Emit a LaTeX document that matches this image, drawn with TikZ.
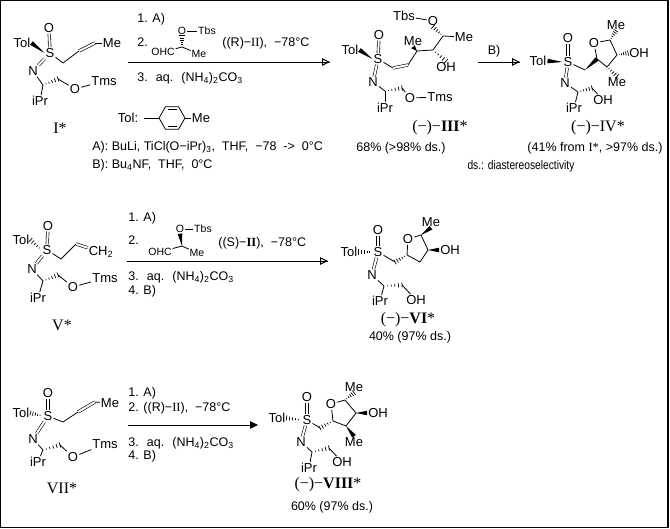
\documentclass[tikz,border=0pt]{standalone}
\usepackage{fontspec}
\setmainfont{Liberation Sans}
\newfontfamily\rmn{Liberation Serif}
\usetikzlibrary{arrows.meta,calc}
\newcommand\wdg[2]{%
  \coordinate (wA) at ($(#2)!2.3pt!90:(#1)$);
  \coordinate (wB) at ($(#2)!2.3pt!-90:(#1)$);
  \fill (#1) -- (wA) -- (wB) -- cycle;}
\newcommand\hsh[2]{%
  \coordinate (wA) at ($(#2)!2.6pt!90:(#1)$);
  \coordinate (wB) at ($(#2)!2.6pt!-90:(#1)$);
  \foreach \t in {0.2,0.4,0.6,0.8,1.0}{\draw[line width=0.7pt] ($(#1)!\t!(wA)$) -- ($(#1)!\t!(wB)$);}}
\begin{document}
\begin{tikzpicture}[x=1pt,y=-1pt,line width=0.8pt,
  font=\fontsize{12.5}{14}\selectfont,
  atom/.style={inner sep=0.8pt,font=\fontsize{13}{15}\selectfont},
  small/.style={inner sep=0.6pt,font=\fontsize{10.5}{12}\selectfont},
  dbl/.style={double distance=2pt,line width=0.6pt},
  txt/.style={inner sep=0pt,anchor=west},
  lbl/.style={inner sep=0pt,font=\rmn\fontsize{16}{18}\selectfont},
  note/.style={inner sep=0pt},
  rx/.style={line width=0.8pt},
  ohead/.style={-{Triangle[open,length=8pt,width=7.5pt,line width=1pt]}},
  fhead/.style={-{Triangle[length=8pt,width=7.5pt]}}]
\useasboundingbox (0,0) rectangle (670,529);
\draw[line width=1.4pt] (0.7,0.7) rectangle (668,527.6);

% ================= I* =================
\begin{scope}[shift={(50,53)}]
\node[atom] (Sa) at (0,0) {S};
\node[atom] (Oa) at (-1,-25) {O};
\node[atom] (Tola) at (-28,-10) {Tol};
\node[atom] (Na) at (-17,18) {N};
\coordinate (Ca) at (-7,32);
\node[atom] (iPra) at (-10,48) {iPr};
\coordinate (Cba) at (8,26);
\node[atom] (Oba) at (25,36) {O};
\node[atom] (Tmsa) at (54,28) {Tms};
\coordinate (a1a) at (13,10);
\coordinate (a2a) at (29,-2);
\coordinate (a3a) at (45,-10);
\node[atom] (Mea) at (62,-10) {Me};
\end{scope}
\draw[dbl] (Sa) -- (Oa);
\wdg{Sa.west}{Tola.east}
\draw[dbl] (Sa) -- (Na);
\draw (Na) -- (Ca);
\draw (Ca) -- (iPra);
\hsh{Ca}{Cba}
\draw (Cba) -- (Oba);
\draw (Oba) -- (Tmsa);
\draw (Sa) -- (a1a) -- (a2a);
\draw[dbl] (a2a) -- (a3a);
\draw (a3a) -- (Mea);
\node[lbl] (La) at (60,128) {I*};

% reagents row 1
\node[txt] (r1a) at (137,19) {1. A)};
\node[txt] (r1b) at (137,42) {2.};
\node[small] (ald1) at (163,52) {OHC};
\coordinate (ac1) at (182,47);
\node[small] (ao1) at (182,31) {O};
\node[small] (at1) at (207,31) {Tbs};
\node[small] (am1) at (199,54) {Me};
\draw (ald1) -- (ac1) -- (am1);
\hsh{ac1}{ao1.south}
\draw (ao1) -- (at1);
\node[txt] (r1c) at (222,43) {((R)−{\rmn II}), \ −78°C};
\coordinate (ar1s) at (128,62);
\coordinate (ar1e) at (330,62);
\draw[rx] (ar1s) -- (ar1e);
\draw[rx,ohead] (ar1s) -- (ar1e);
\node[txt] (r1d) at (137,78) {3. \ aq. \ (NH\textsubscript{4})\textsubscript{2}CO\textsubscript{3}};

% Tol definition
\node[atom] (tolk) at (128,118) {Tol:};
\coordinate (tl0) at (144,118);
\coordinate (h1) at (159,118);
\coordinate (h2) at (165.5,106.7);
\coordinate (h3) at (178.5,106.7);
\coordinate (h4) at (185,118);
\coordinate (h5) at (178.5,129.3);
\coordinate (h6) at (165.5,129.3);
\node[atom] (tme) at (201,118) {Me};
\draw (tl0) -- (h1);
\draw (h1) -- (h2) -- (h3) -- (h4) -- (h5) -- (h6) -- cycle;
\draw ($(h2)+(2,2.8)$) -- ($(h3)+(-2,2.8)$);
\draw ($(h6)+(2,-2.8)$) -- ($(h5)+(-2,-2.8)$);
\draw (h4) -- (tme);
\node[txt] (defA) at (92,147) {A): BuLi, TiCl(O−iPr)\textsubscript{3}, \ THF, \ −78 \ -> \ 0°C};
\node[txt] (defB) at (92,165) {B): Bu\textsubscript{4}NF, \ THF, \ 0°C};

% ================= III* =================
\node[atom] (S3) at (378,59) {S};
\node[atom] (O3) at (379,35) {O};
\node[atom] (Tol3) at (350,50) {Tol};
\node[atom] (N3) at (373,82) {N};
\coordinate (C3) at (385,91);
\node[atom] (iPr3) at (385,108) {iPr};
\coordinate (Cb3) at (402,88);
\node[atom] (Ob3) at (410,98) {O};
\node[atom] (Tms3) at (440,97) {Tms};
\coordinate (D1) at (393,68);
\coordinate (D2) at (408,65);
\coordinate (E3) at (417,51);
\node[atom] (Me3a) at (413,41) {Me};
\coordinate (F3) at (433,50);
\node[atom] (OH3) at (446,67) {OH};
\coordinate (G3) at (443,36);
\node[atom] (Me3b) at (464,37) {Me};
\node[atom] (O3c) at (433,21) {O};
\node[atom] (Tbs3) at (404,16) {Tbs};
\draw[dbl] (S3) -- (O3);
\wdg{S3.west}{Tol3.east}
\draw[dbl] (S3) -- (N3);
\draw (N3) -- (C3);
\draw (C3) -- (iPr3);
\hsh{C3}{Cb3}
\draw (Cb3) -- (Ob3);
\draw (Ob3) -- (Tms3);
\draw (S3) -- (D1);
\draw[dbl] (D1) -- (D2);
\draw (D2) -- (E3) -- (F3) -- (G3);
\wdg{E3}{Me3a.south}
\hsh{F3}{OH3.north}
\draw (G3) -- (Me3b);
\hsh{G3}{O3c.south}
\draw (O3c) -- (Tbs3);
\node[lbl] (L3) at (440,128) {(−)−\textbf{III}*};
\node[note] (y3) at (401,148) {68\% (>98\% ds.)};

% arrow B
\coordinate (ar2s) at (478,62);
\coordinate (ar2e) at (520,62);
\draw[rx] (ar2s) -- (ar2e);
\draw[rx,ohead] (ar2s) -- (ar2e);
\node[note] (b2) at (494,51) {B)};

% ================= IV* =================
\node[atom] (S4) at (568,62) {S};
\node[atom] (O4) at (568,38) {O};
\node[atom] (Tol4) at (538,61) {Tol};
\node[atom] (N4) at (565,83) {N};
\coordinate (C4) at (578,92);
\node[atom] (iPr4) at (574,108) {iPr};
\coordinate (Cb4) at (592,88);
\node[atom] (OH4) at (603,100) {OH};
\coordinate (K4) at (585,70);
\coordinate (R4a) at (597,59);
\node[atom] (R4o) at (594,43) {O};
\coordinate (R4b) at (610,40);
\node[atom] (Me4a) at (616,25) {Me};
\coordinate (R4c) at (617,55);
\node[atom] (OH4b) at (639,53) {OH};
\coordinate (R4d) at (607,67);
\node[atom] (Me4b) at (617,82) {Me};
\draw[dbl] (S4) -- (O4);
\wdg{S4.west}{Tol4.east}
\draw[dbl] (S4) -- (N4);
\draw (N4) -- (C4);
\draw (C4) -- (iPr4);
\hsh{C4}{Cb4}
\draw (Cb4) -- (OH4);
\draw (S4) -- (K4);
\wdg{K4}{R4a}
\draw (R4a) -- (R4o);
\draw (R4o) -- (R4b);
\draw (R4b) -- (R4c) -- (R4d) -- (R4a);
\hsh{R4b}{Me4a.south}
\hsh{R4c}{OH4b.west}
\hsh{R4d}{Me4b.north}
\node[lbl] (L4) at (598,128) {(−)−IV*};
\node[note] (y4) at (595,148) {(41\% from {\rmn I*}, >97\% ds.)};
\node[note] (dsn) at (521,166) {\scalebox{0.82}[1]{ds.: diastereoselectivity}};

% ================= V* =================
\begin{scope}[shift={(47,250)}]
\node[atom] (Sb) at (0,0) {S};
\node[atom] (Ob) at (1,-24) {O};
\node[atom] (Tolb) at (-26,-10) {Tol};
\node[atom] (Nb) at (-15,19) {N};
\coordinate (Cb) at (-4,31);
\node[atom] (iPrb) at (-9,48) {iPr};
\coordinate (Cbb) at (11,25);
\node[atom] (Obb) at (26,37) {O};
\node[atom] (Tmsb) at (58,28) {Tms};
\coordinate (a1b) at (14,9);
\coordinate (a2b) at (29,-6);
\node[atom] (CH2b) at (54,2) {CH\textsubscript{2}};
\end{scope}
\draw[dbl] (Sb) -- (Ob);
\hsh{Sb.west}{Tolb.east}
\draw[dbl] (Sb) -- (Nb);
\draw (Nb) -- (Cb);
\draw (Cb) -- (iPrb);
\hsh{Cb}{Cbb}
\draw (Cbb) -- (Obb);
\draw (Obb) -- (Tmsb);
\draw (Sb) -- (a1b) -- (a2b);
\draw[dbl] (a2b) -- (CH2b);
\node[lbl] (Lb) at (62,325) {V*};

% reagents row 2
\node[txt] (r2a) at (128,218) {1. A)};
\node[txt] (r2b) at (128,240) {2.};
\node[small] (ald2) at (160,252) {OHC};
\coordinate (ac2) at (182,246);
\node[small] (ao2) at (180,229) {O};
\node[small] (at2) at (203,229) {Tbs};
\node[small] (am2) at (197,253) {Me};
\draw (ald2) -- (ac2) -- (am2);
\wdg{ac2}{ao2.south}
\draw (ao2) -- (at2);
\node[txt] (r2c) at (218,243) {((S)−{\rmn\bfseries II}), \ −78°C};
\coordinate (ar3s) at (127,261);
\coordinate (ar3e) at (328,261);
\draw[rx] (ar3s) -- (ar3e);
\draw[rx,ohead] (ar3s) -- (ar3e);
\node[txt] (r2d) at (128,277) {3. \ aq. \ (NH\textsubscript{4})\textsubscript{2}CO\textsubscript{3}};
\node[txt] (r2e) at (128,291) {4. B)};

% ================= VI* =================
\node[atom] (S6) at (378,252) {S};
\node[atom] (O6) at (378,230) {O};
\node[atom] (Tol6) at (349,252) {Tol};
\node[atom] (N6) at (372,275) {N};
\coordinate (C6) at (384,286);
\node[atom] (iPr6) at (380,301) {iPr};
\coordinate (Cb6) at (402,285);
\node[atom] (OH6) at (416,300) {OH};
\coordinate (K6) at (395,262);
\coordinate (R6a) at (407,255);
\node[atom] (R6o) at (408,239) {O};
\coordinate (R6b) at (421,235);
\node[atom] (Me6) at (431,222) {Me};
\coordinate (R6c) at (428,250);
\node[atom] (OH6b) at (450,250) {OH};
\coordinate (R6d) at (420,262);
\draw[dbl] (S6) -- (O6);
\hsh{S6.west}{Tol6.east}
\draw[dbl] (S6) -- (N6);
\draw (N6) -- (C6);
\draw (C6) -- (iPr6);
\hsh{C6}{Cb6}
\draw (Cb6) -- (OH6);
\draw (S6) -- (K6);
\hsh{R6a}{K6}
\draw (R6a) -- (R6o);
\draw (R6o) -- (R6b);
\draw (R6b) -- (R6c) -- (R6d) -- (R6a);
\wdg{R6b}{Me6.south}
\wdg{R6c}{OH6b.west}
\node[lbl] (L6) at (408,320) {(−)−\textbf{VI}*};
\node[note] (y6) at (410,337) {40\% (97\% ds.)};

% ================= VII* =================
\begin{scope}[shift={(48,416)}]
\node[atom] (Sc) at (0,0) {S};
\node[atom] (Oc) at (0,-23) {O};
\node[atom] (Tolc) at (-27,-3) {Tol};
\node[atom] (Nc) at (-15,23) {N};
\coordinate (Cc) at (-5,34);
\node[atom] (iPrc) at (-10,46) {iPr};
\coordinate (Cbc) at (12,29);
\node[atom] (Obc) at (25,41) {O};
\node[atom] (Tmsc) at (57,28) {Tms};
\coordinate (a1c) at (15,6);
\coordinate (a2c) at (30,-4);
\coordinate (a3c) at (47,-14);
\node[atom] (Mec) at (62,-13) {Me};
\end{scope}
\draw[dbl] (Sc) -- (Oc);
\hsh{Sc.west}{Tolc.east}
\draw[dbl] (Sc) -- (Nc);
\draw (Nc) -- (Cc);
\draw (Cc) -- (iPrc);
\hsh{Cc}{Cbc}
\draw (Cbc) -- (Obc);
\draw (Obc) -- (Tmsc);
\draw (Sc) -- (a1c) -- (a2c);
\draw[dbl] (a2c) -- (a3c);
\draw (a3c) -- (Mec);
\node[lbl] (Lc) at (62,488) {VII*};

% reagents row 3
\node[txt] (r3a) at (128,393) {1. A)};
\node[txt] (r3b) at (128,408) {2. ((R)−{\rmn II}), \ −78°C};
\coordinate (ar4s) at (128,425);
\coordinate (ar4e) at (258,425);
\draw[rx,fhead] (ar4s) -- (ar4e);
\node[txt] (r3c) at (128,443) {3. \ aq. \ (NH\textsubscript{4})\textsubscript{2}CO\textsubscript{3}};
\node[txt] (r3d) at (128,456) {4. B)};

% ================= VIII* =================
\node[atom] (S8) at (307,420) {S};
\node[atom] (O8) at (307,397) {O};
\node[atom] (Tol8) at (277,418) {Tol};
\node[atom] (N8) at (301,442) {N};
\coordinate (C8) at (312,452);
\node[atom] (iPr8) at (309,468) {iPr};
\coordinate (Cb8) at (329,448);
\node[atom] (OH8) at (342,462) {OH};
\coordinate (K8) at (320,428);
\coordinate (R8a) at (333,421);
\node[atom] (R8o) at (331,404) {O};
\coordinate (R8b) at (345,400);
\node[atom] (Me8a) at (354,387) {Me};
\coordinate (R8c) at (356,413);
\node[atom] (OH8b) at (378,413) {OH};
\coordinate (R8d) at (346,426);
\node[atom] (Me8b) at (354,442) {Me};
\draw[dbl] (S8) -- (O8);
\hsh{S8.west}{Tol8.east}
\draw[dbl] (S8) -- (N8);
\draw (N8) -- (C8);
\draw (C8) -- (iPr8);
\hsh{C8}{Cb8}
\draw (Cb8) -- (OH8);
\draw (S8) -- (K8);
\hsh{R8a}{K8}
\draw (R8a) -- (R8o);
\draw (R8o) -- (R8b);
\draw (R8b) -- (R8c) -- (R8d) -- (R8a);
\hsh{R8b}{Me8a.south}
\wdg{R8c}{OH8b.west}
\wdg{R8d}{Me8b.north}
\node[lbl] (L8) at (328,485) {(−)−\textbf{VIII}*};
\node[note] (y8) at (332,507) {60\% (97\% ds.)};
\end{tikzpicture}
\end{document}
